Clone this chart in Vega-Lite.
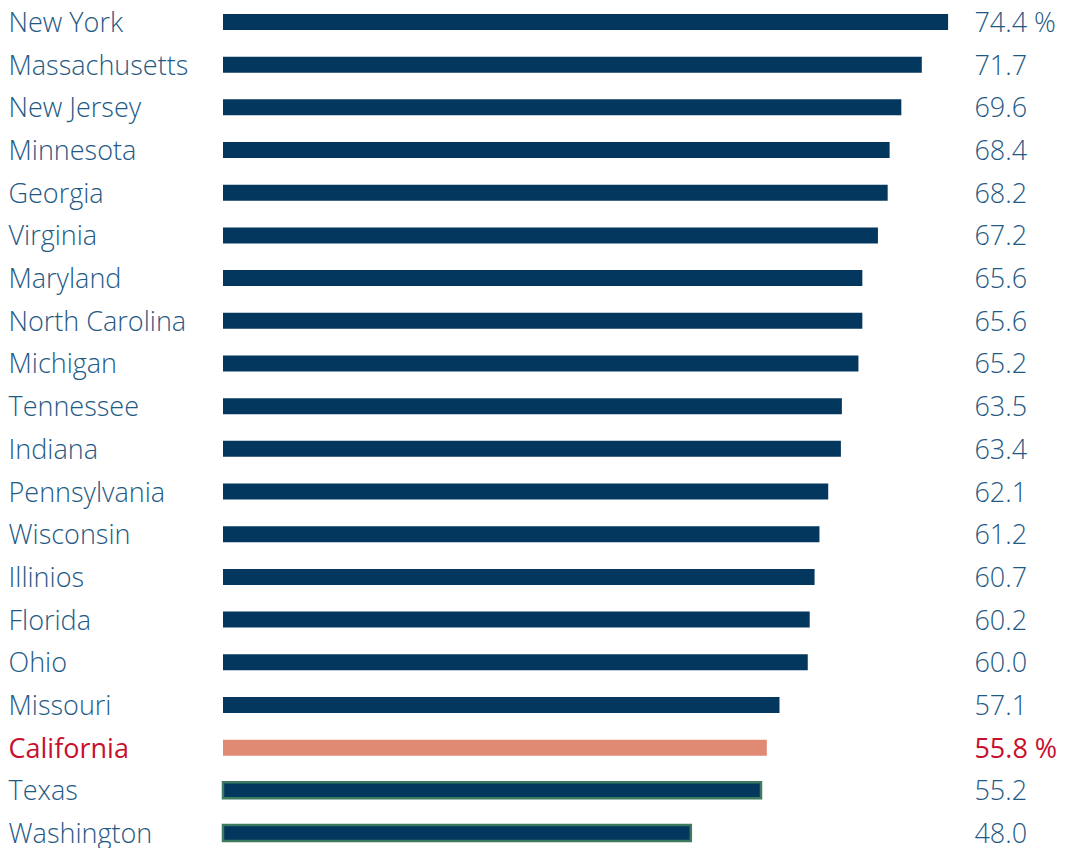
{
  "$schema": "https://vega.github.io/schema/vega-lite/v6.json",
  "autosize": {"type": "none"},
  "padding": {"left": 223, "top": 0, "right": 0, "bottom": 0},
  "width": 844,
  "height": 855,
  "background": "white",
  "config": {"view": {"stroke": null}},
  "data": {
    "values": [
      {"state": "New York", "value": 74.4, "label": "74.4 %", "group": "main"},
      {"state": "Massachusetts", "value": 71.7, "label": "71.7", "group": "main"},
      {"state": "New Jersey", "value": 69.6, "label": "69.6", "group": "main"},
      {"state": "Minnesota", "value": 68.4, "label": "68.4", "group": "main"},
      {"state": "Georgia", "value": 68.2, "label": "68.2", "group": "main"},
      {"state": "Virginia", "value": 67.2, "label": "67.2", "group": "main"},
      {"state": "Maryland", "value": 65.6, "label": "65.6", "group": "main"},
      {"state": "North Carolina", "value": 65.6, "label": "65.6", "group": "main"},
      {"state": "Michigan", "value": 65.2, "label": "65.2", "group": "main"},
      {"state": "Tennessee", "value": 63.5, "label": "63.5", "group": "main"},
      {"state": "Indiana", "value": 63.4, "label": "63.4", "group": "main"},
      {"state": "Pennsylvania", "value": 62.1, "label": "62.1", "group": "main"},
      {"state": "Wisconsin", "value": 61.2, "label": "61.2", "group": "main"},
      {"state": "Illinios", "value": 60.7, "label": "60.7", "group": "main"},
      {"state": "Florida", "value": 60.2, "label": "60.2", "group": "main"},
      {"state": "Ohio", "value": 60.0, "label": "60.0", "group": "main"},
      {"state": "Missouri", "value": 57.1, "label": "57.1", "group": "main"},
      {"state": "California", "value": 55.8, "label": "55.8 %", "group": "highlight"},
      {"state": "Texas", "value": 55.2, "label": "55.2", "group": "outlined"},
      {"state": "Washington", "value": 48.0, "label": "48.0", "group": "outlined"}
    ]
  },
  "encoding": {
    "y": {
      "field": "state",
      "type": "nominal",
      "sort": null,
      "scale": {"paddingInner": 0.6, "paddingOuter": 0.315},
      "axis": {
        "title": null,
        "domain": false,
        "ticks": false,
        "grid": false,
        "labelPadding": 215,
        "labelOffset": 2,
        "labelAlign": "left",
        "labelBaseline": "middle",
        "labelFont": "Open Sans",
        "labelFontWeight": {
          "condition": {"test": "datum.value === 'California'", "value": 400},
          "value": 300
        },
        "labelFontSize": 27,
        "labelLimit": 300,
        "labelColor": {
          "condition": {"test": "datum.value === 'California'", "value": "#c8102e"},
          "value": "#1f5a85"
        }
      }
    }
  },
  "layer": [
    {
      "mark": {"type": "bar", "size": 16},
      "encoding": {
        "x": {
          "field": "value",
          "type": "quantitative",
          "scale": {"domain": [0, 86.6], "nice": false, "zero": true},
          "axis": null
        },
        "color": {
          "field": "group",
          "type": "nominal",
          "scale": {"domain": ["main", "highlight", "outlined"], "range": ["#03375e", "#e08a74", "#03375e"]},
          "legend": null
        },
        "stroke": {
          "field": "group",
          "type": "nominal",
          "scale": {"domain": ["main", "highlight", "outlined"], "range": ["#03375e", "#e08a74", "#3d7a5f"]},
          "legend": null
        },
        "strokeWidth": {
          "condition": {"test": "datum.group === 'outlined'", "value": 2.5},
          "value": 0
        }
      }
    },
    {
      "transform": [{"filter": "datum.group !== 'highlight'"}],
      "mark": {"type": "text", "align": "left", "baseline": "middle", "dy": 2, "font": "Open Sans", "fontWeight": 300, "fontSize": 27, "color": "#1f5a85"},
      "encoding": {
        "x": {"datum": 77.1, "type": "quantitative"},
        "text": {"field": "label"}
      }
    },
    {
      "transform": [{"filter": "datum.group === 'highlight'"}],
      "mark": {"type": "text", "align": "left", "baseline": "middle", "dy": 2, "font": "Open Sans", "fontWeight": 400, "fontSize": 27, "color": "#c8102e"},
      "encoding": {
        "x": {"datum": 77.1, "type": "quantitative"},
        "text": {"field": "label"}
      }
    }
  ]
}
